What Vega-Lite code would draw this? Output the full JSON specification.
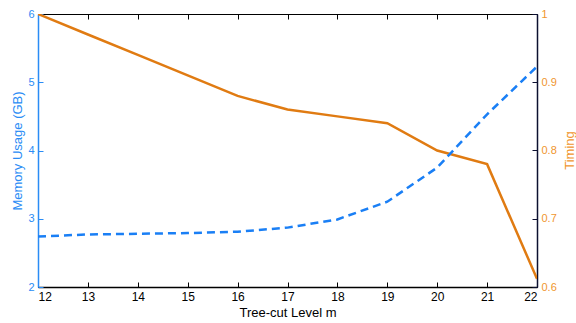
{
  "$schema": "https://vega.github.io/schema/vega-lite/v6.json",
  "width": 499,
  "height": 273,
  "autosize": {"type": "none"},
  "padding": {"left": 38, "top": 14, "right": 39, "bottom": 36},
  "config": {
    "font": "Liberation Sans",
    "view": {"stroke": "#000000", "strokeWidth": 1},
    "axis": {"grid": false, "labelFont": "Liberation Sans", "titleFont": "Liberation Sans", "labelFontSize": 11, "titleFontSize": 12, "titleFontWeight": "normal"}
  },
  "data": {
    "values": [
      {"m": 12, "memory": 2.74, "timing": 1.0},
      {"m": 13, "memory": 2.77, "timing": 0.97},
      {"m": 14, "memory": 2.78, "timing": 0.94},
      {"m": 15, "memory": 2.79, "timing": 0.91},
      {"m": 16, "memory": 2.81, "timing": 0.88},
      {"m": 17, "memory": 2.87, "timing": 0.86},
      {"m": 18, "memory": 2.99, "timing": 0.85},
      {"m": 19, "memory": 3.25, "timing": 0.84},
      {"m": 20, "memory": 3.75, "timing": 0.80},
      {"m": 21, "memory": 4.53, "timing": 0.78},
      {"m": 22, "memory": 5.23, "timing": 0.612}
    ]
  },
  "layer": [
    {
      "mark": {"type": "line", "color": "#e07b12", "strokeWidth": 2.5, "clip": true},
      "encoding": {
        "x": {"field": "m", "type": "quantitative", "scale": {"domain": [12, 22], "nice": false, "zero": false},
          "axis": {"orient": "top", "values": [12,13,14,15,16,17,18,19,20,21,22], "labels": false, "title": null, "domain": false, "tickSize": -5, "tickColor": "#000000"}},
        "y": {"field": "timing", "type": "quantitative", "scale": {"domain": [0.6, 1], "nice": false, "zero": false},
          "axis": {"orient": "right", "title": "Timing", "titleColor": "#f0962e", "labelColor": "#f0962e", "values": [0.6, 0.7, 0.8, 0.9, 1], "labelExpr": "datum.value == 1 ? '1' : format(datum.value, '.1f')", "domainColor": "#0c1030", "domainWidth": 1.5, "tickColor": "#0c1030", "tickSize": -5, "labelPadding": 9, "titleFontSize": 13, "titleAngle": 270, "titleBaseline": "top", "titleAlign": "center", "titleX": 26, "titleY": 136}}
      }
    },
    {
      "mark": {"type": "line", "color": "#1a7ff5", "strokeWidth": 2.5, "strokeDash": [8, 5], "clip": true},
      "encoding": {
        "x": {"field": "m", "type": "quantitative", "scale": {"domain": [12, 22], "nice": false, "zero": false},
          "axis": {"orient": "bottom", "values": [12,13,14,15,16,17,18,19,20,21,22], "title": "Tree-cut Level m", "titleColor": "#000000", "labelColor": "#000000", "domainColor": "#000000", "domainWidth": 1.5, "tickColor": "#000000", "tickSize": -5, "labelPadding": 9, "titlePadding": 4, "labelFontSize": 12, "titleFontSize": 13}},
        "y": {"field": "memory", "type": "quantitative", "scale": {"domain": [2, 6], "nice": false, "zero": false},
          "axis": {"orient": "left", "title": "Memory Usage (GB)", "titleColor": "#2a8cf5", "labelColor": "#2a8cf5", "values": [2, 3, 4, 5, 6], "domainColor": "#2a8cf5", "domainWidth": 1.5, "tickColor": "#2a8cf5", "tickSize": -5, "labelPadding": 9, "titleFontSize": 13, "titlePadding": 3}}
      }
    }
  ],
  "resolve": {"scale": {"y": "independent"}, "axis": {"x": "independent", "y": "independent"}}
}
